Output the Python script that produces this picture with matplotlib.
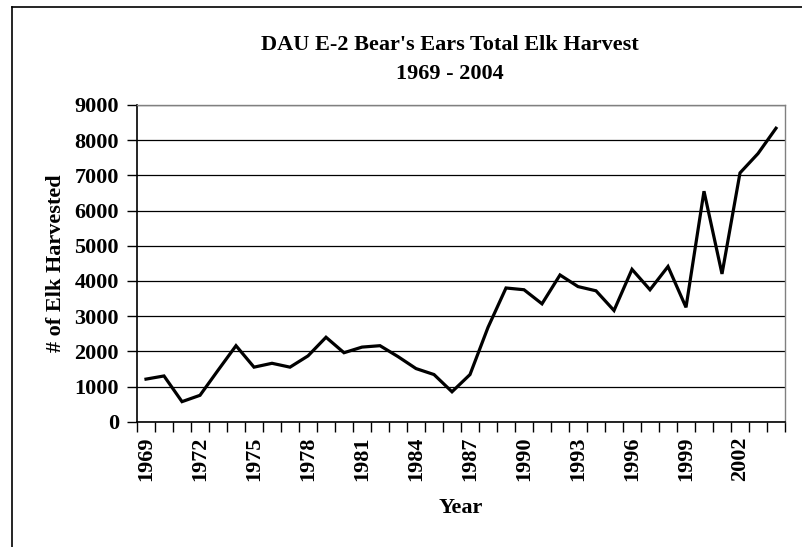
import numpy as np
import matplotlib
matplotlib.use("Agg")
import matplotlib.pyplot as plt
from matplotlib.lines import Line2D

years = list(range(1969, 2005))
harvest = [1210, 1300, 570, 750, 1460, 2160, 1550, 1660, 1550, 1870,
           2400, 1960, 2120, 2160, 1850, 1510, 1340, 850, 1340, 2680,
           3800, 3750, 3350, 4170, 3840, 3720, 3160, 4330, 3750, 4410,
           3250, 6550, 4200, 7070, 7620, 8340]
y_ticks = [0, 1000, 2000, 3000, 4000, 5000, 6000, 7000, 8000, 9000]
label_years = years[::3]

W, H = 803, 547
fig = plt.figure(figsize=(W / 100, H / 100), dpi=100)
plt.rcParams['font.family'] = ['Liberation Serif', 'DejaVu Serif']
FS = 16

left, right, top, bottom = 137, 785, 105, 421.7
ax = fig.add_axes([left / W, 1 - bottom / H, (right - left) / W, (bottom - top) / H])

n = len(years)
xpos = np.arange(n) + 0.5
ax.plot(xpos, harvest, color='black', lw=2.3, solid_joinstyle='miter')

ax.set_xlim(0, n)
ax.set_ylim(0, 9000)
ax.set_yticks(y_ticks)
ax.set_yticklabels([str(v) for v in y_ticks], fontsize=FS, fontweight='bold')
ax.yaxis.grid(True, color='black', lw=0.9)
ax.set_axisbelow(True)

# boundary tick marks between categories
ax.set_xticks(np.arange(0, n + 1))
ax.set_xticklabels([''] * (n + 1))
ax.tick_params(axis='x', which='major', length=7, width=1, direction='out')
# year labels at category centres
idx = [years.index(y) for y in label_years]
ax.set_xticks(xpos[idx], minor=True)
ax.set_xticklabels([str(y) for y in label_years], minor=True, rotation=90,
                   fontsize=FS, fontweight='bold')
ax.tick_params(axis='x', which='minor', length=0, pad=11)
ax.tick_params(axis='y', length=7, width=1, direction='out', pad=6)

for s in ['left', 'bottom']:
    ax.spines[s].set_color('black')
    ax.spines[s].set_linewidth(1.2)
for s in ['top', 'right']:
    ax.spines[s].set_color('#808080')
    ax.spines[s].set_linewidth(1.0)

ax.set_ylabel('# of Elk Harvested', fontsize=FS, fontweight='bold', labelpad=6)
ax.set_xlabel('Year', fontsize=FS, fontweight='bold', labelpad=12)

fig.text(450 / W, 1 - 45 / H, "DAU E-2 Bear's Ears Total Elk Harvest",
         ha='center', va='center', fontsize=FS, fontweight='bold')
fig.text(450 / W, 1 - 74 / H, "1969 - 2004",
         ha='center', va='center', fontsize=FS, fontweight='bold')

# chart border
fig.add_artist(Line2D([12 / W, 1.01], [1 - 7 / H, 1 - 7 / H], transform=fig.transFigure,
                      color='black', lw=1.2))
fig.add_artist(Line2D([12 / W, 12 / W], [1 - 7 / H, -0.01], transform=fig.transFigure,
                      color='black', lw=1.2))

fig.savefig('out.png', dpi=100)
